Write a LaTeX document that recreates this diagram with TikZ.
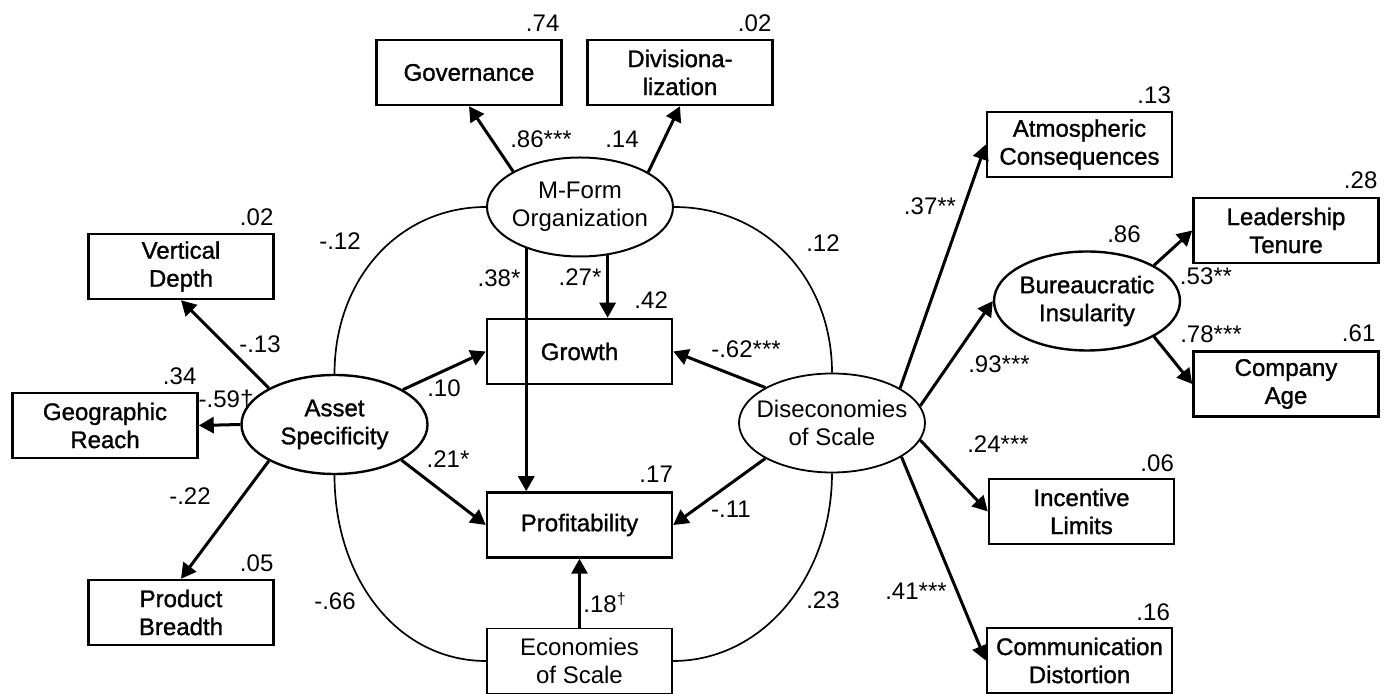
\documentclass[tikz,border=0pt]{standalone}
\usepackage{fontspec}
\setmainfont{Liberation Sans}
\newfontfamily\heavyfont{Liberation Sans}[FakeBold=1.2]
\usetikzlibrary{arrows.meta,shapes.geometric,calc}
\begin{document}
\begin{tikzpicture}[x=0.5pt,y=-0.5pt,
  every node/.style={font=\fontsize{12}{14}\selectfont},
  obs/.style={draw, line width=1.25pt, minimum width=92.5pt, minimum height=32.5pt, align=center, inner sep=2pt, font=\heavyfont\fontsize{12}{14}\selectfont},
  lat/.style={draw, ellipse, line width=1.2pt, minimum width=93pt, minimum height=49.5pt, inner sep=0pt},
  lt/.style={align=center, inner sep=0pt, font=\fontsize{12}{14}\selectfont},
  ltb/.style={lt, font=\heavyfont\fontsize{12}{14}\selectfont},
  arr/.style={line width=1.5pt, -{Triangle[length=7.5pt,width=8pt]}},
  cov/.style={line width=0.85pt},
  num/.style={anchor=base, inner sep=0pt},
  rsq/.style={anchor=base east, inner sep=0pt},
]
\useasboundingbox (0,0) rectangle (1394,694);

% observed variables
\node[obs] (gov) at (469,72.5) {Governance};
\node[obs] (div) at (680,72.5) {Divisiona-\\lization};
\node[obs] (vd) at (181,266.5) {Vertical\\Depth};
\node[obs] (geo) at (105,425.5) {Geographic\\Reach};
\node[obs] (pb) at (181,612.5) {Product\\Breadth};
\node[obs] (growth) at (579.5,351.5) {Growth};
\node[obs] (prof) at (579.5,525) {Profitability};
\node[obs, line width=0.9pt, font=\fontsize{12}{14}\selectfont] (econ) at (579.5,661) {Economies\\of Scale};
\node[obs] (atm) at (1079.5,144.5) {Atmospheric\\Consequences};
\node[obs] (lead) at (1286,230.5) {Leadership\\Tenure};
\node[obs] (comp) at (1286,384) {Company\\Age};
\node[obs] (inc) at (1081.5,511.5) {Incentive\\Limits};
\node[obs] (comm) at (1079.5,660.5) {Communication\\Distortion};

% latent variables
\node[lat, line width=1pt, label={[lt]center:M-Form\\Organization}] (mform) at (580,207) {};
\node[lat, label={[ltb]center:Asset\\Specificity}] (asset) at (334.5,424.5) {};
\node[lat, line width=0.9pt, label={[lt]center:Diseconomies\\of Scale}] (dis) at (832,423) {};
\node[lat, label={[ltb]center:Bureaucratic\\Insularity}] (bur) at (1087,301) {};

% covariances
\draw[cov] (asset.north) .. controls +(0,-95) and +(-87,0) .. (mform.west);
\draw[cov] (mform.east) .. controls +(91,0) and +(0,-94) .. (dis.north);
\draw[cov] (asset.south) .. controls +(0,104) and +(-88,0) .. (econ.west);
\draw[cov] (dis.south) .. controls +(0,102) and +(91,0) .. (econ.east);

% paths
\coordinate (g27) at ($(growth.north west)!0.65!(growth.north east)$);
\coordinate (p38) at ($(prof.north west)!0.216!(prof.north east)$);
\draw[arr] (mform.152.4) -- (gov.south);
\draw[arr] (mform.27.6) -- (div.south);
\draw[arr] (mform.-60.6 -| g27) -- (g27);
\draw[arr] (mform.217.7 -| p38) -- (p38);
\draw[arr] (asset.151.4) -- (vd.south);
\draw[arr] (asset.west) -- (geo.east);
\draw[arr] (asset.209.6) -- (pb.north);
\draw[arr] (asset.27.9) -- (growth.west);
\draw[arr] (asset.-28.2) -- (prof.west);
\draw[arr] (dis.152.4) -- (growth.east);
\draw[arr] (dis.208.9) -- (prof.east);
\draw[arr] (econ.north) -- (prof.south);
\draw[arr] (dis.27.2) -- (atm.west);
\draw[arr] (dis.11.3) -- (bur.west);
\draw[arr] (dis.-11.8) -- (inc.west);
\draw[arr] (dis.-26.6) -- (comm.west);
\draw[arr] (bur.28.2) -- (lead.west);
\draw[arr] (bur.-28.6) -- (comp.west);

% R-squared
\node[rsq] (r1) at ($(gov.north east)+(-3,-7)$) {.74};
\node[rsq] (r2) at ($(div.north east)+(-2,-7)$) {.02};
\node[rsq] (r3) at ($(vd.north east)+(-1,-7)$) {.02};
\node[rsq] (r4) at ($(geo.north east)+(-2,-7)$) {.34};
\node[rsq] (r5) at ($(pb.north east)+(-1,-7)$) {.05};
\node[rsq] (r6) at ($(growth.north east)+(-5,-9)$) {.42};
\node[rsq] (r7) at ($(prof.north east)+(0,-9)$) {.17};
\node[rsq] (r8) at ($(atm.north east)+(-2,-7)$) {.13};
\node[rsq] (r9) at ($(lead.north east)+(-2,-8)$) {.28};
\node[rsq] (r10) at ($(comp.north east)+(-4,-9)$) {.61};
\node[rsq] (r11) at ($(inc.north east)+(-1,-6)$) {.06};
\node[rsq] (r12) at ($(comm.north east)+(-3,-6)$) {.16};
\node[num] (r13) at (1124,243) {.86};

% path coefficients
\node[num] (c1) at (541,148) {.86***};
\node[num] (c2) at (622,148) {.14};
\node[num] (c3) at (340,250) {-.12};
\node[num] (c4) at (823,252) {.12};
\node[num] (c5) at (499,287) {.38*};
\node[num] (c6) at (580,286) {.27*};
\node[num] (c7) at (444,397) {.10};
\node[num] (c8) at (448,468) {.21*};
\node[num] (c9) at (260,353) {-.13};
\node[num] (c10) at (226,408) {-.59†};
\node[num] (c11) at (190,505) {-.22};
\node[num] (c12) at (335,610) {-.66};
\node[anchor=base west, inner sep=0pt] (c13) at (583,613) {.18\textsuperscript{†}};
\node[num] (c14) at (823,609) {.23};
\node[num] (c15) at (746,358) {-.62***};
\node[num] (c16) at (731,518) {-.11};
\node[num] (c17) at (930,215) {.37**};
\node[num] (c18) at (999,373) {.93***};
\node[num] (c19) at (1206,285) {.53**};
\node[num] (c20) at (1211,343) {.78***};
\node[num] (c21) at (998,453) {.24***};
\node[num] (c22) at (916,600) {.41***};
\end{tikzpicture}
\end{document}
